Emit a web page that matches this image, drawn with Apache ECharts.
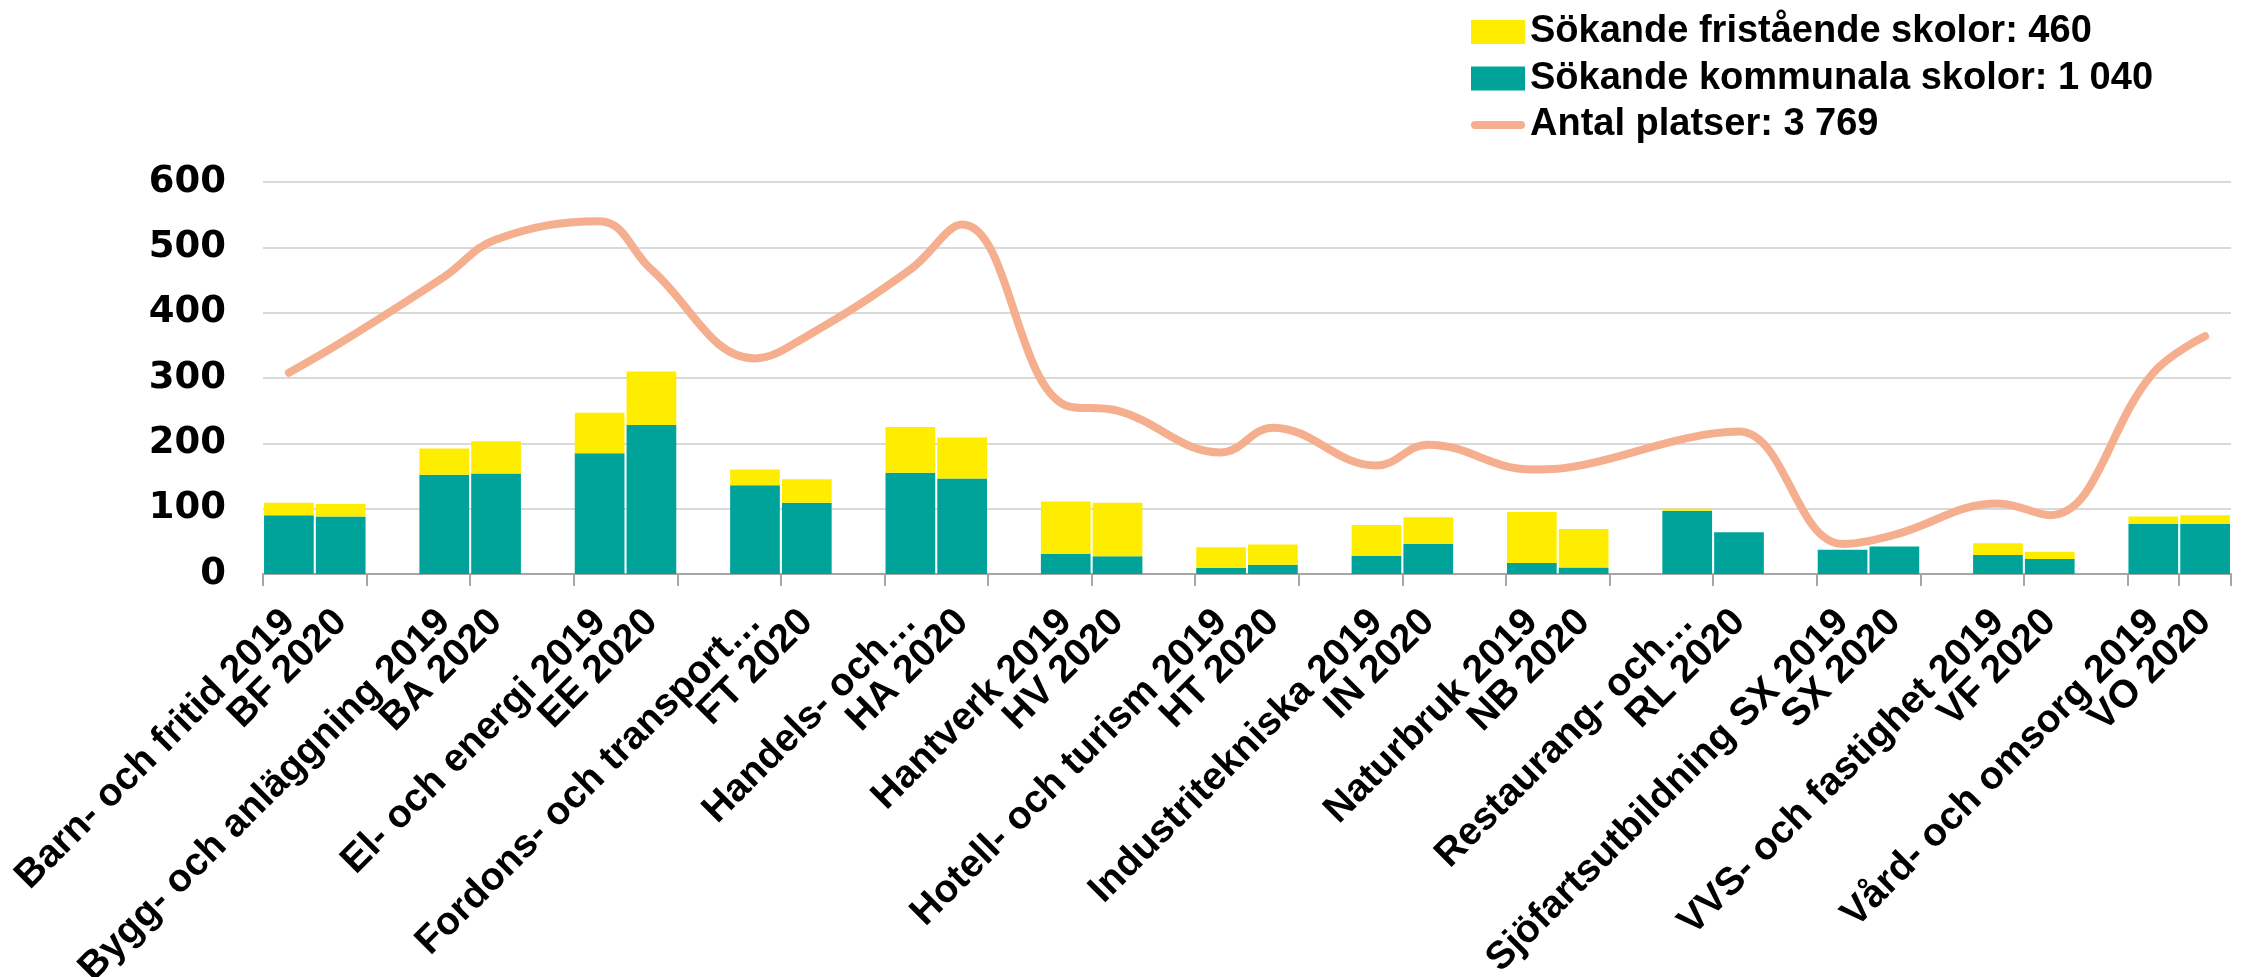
<!DOCTYPE html>
<html><head><meta charset="utf-8">
<script src="https://cdn.jsdelivr.net/npm/echarts@6/dist/echarts.min.js"></script>
<style>html,body{margin:0;padding:0;background:#fff}#c{width:2254px;height:977px}</style>
</head><body><div id="c"></div>
<script>
const categories = [
  "Barn- och fritid 2019", "BF 2020", "",
  "Bygg- och anläggning 2019", "BA 2020", "",
  "El- och energi 2019", "EE 2020", "",
  "Fordons- och transport…", "FT 2020", "",
  "Handels- och…", "HA 2020", "",
  "Hantverk 2019", "HV 2020", "",
  "Hotell- och turism 2019", "HT 2020", "",
  "Industritekniska 2019", "IN 2020", "",
  "Naturbruk 2019", "NB 2020", "",
  "Restaurang- och…", "RL 2020", "",
  "Sjöfartsutbildning SX 2019", "SX 2020", "",
  "VVS- och fastighet 2019", "VF 2020", "",
  "Vård- och omsorg 2019", "VO 2020"
];
const kommunala = [90,88,null, 152,154,null, 185,228,null, 136,109,null, 155,146,null, 31,27,null, 9,14,null, 28,46,null, 17,10,null, 97,64,null, 37,42,null, 29,23,null, 77,77];
const fristaende = [19,19,null, 40,49,null, 62,82,null, 24,36,null, 70,63,null, 80,82,null, 32,31,null, 47,41,null, 78,59,null, 3,0,null, 0,0,null, 18,11,null, 11,13];
const platser = [308,354,null, 455,512,null, 540,466,null, 330,364,null, 466,535,null, 258,250,null, 186,224,null, 166,198,null, 160,167,null, 208,218,null, 46,60,null, 108,90,null, 308,364];
const legendNames = ["Sökande fristående skolor: 460", "Sökande kommunala skolor: 1 040", "Antal platser: 3 769"];
const yMin = 0, yMax = 600, yStep = 100;

const chart = echarts.init(document.getElementById('c'), null, {renderer: 'canvas'});
chart.setOption({
  animation: false,
  backgroundColor: '#fff',
  grid: {left: 263, right: 23, top: 182, bottom: 403, containLabel: false, outerBoundsMode: 'none'},
  legend: {
    orient: 'vertical', left: 1466, top: 7,
    itemWidth: 54, itemHeight: 24, itemGap: 6.5,
    textStyle: {fontFamily: 'Liberation Sans', fontWeight: 'bold', fontSize: 38, color: '#000', lineHeight: 40},
    data: [
      {name: legendNames[0], icon: 'rect'},
      {name: legendNames[1], icon: 'rect'},
      {name: legendNames[2], icon: 'path://M4,0 L50,0 A4,4 0 0 1 50,8 L4,8 A4,4 0 0 1 4,0 Z'}
    ]
  },
  xAxis: {
    type: 'category', data: categories, boundaryGap: true,
    axisLine: {lineStyle: {color: '#A6A6A6', width: 2}},
    axisTick: {show: true, interval: 1, length: 12, lineStyle: {color: '#A6A6A6', width: 2}},
    axisLabel: {interval: 0, rotate: 45, margin: 42, fontFamily: 'Liberation Sans', fontWeight: 'bold', fontSize: 39, color: '#000'}
  },
  yAxis: {
    type: 'value', min: yMin, max: yMax, interval: yStep,
    axisLine: {show: false}, axisTick: {show: false},
    splitLine: {lineStyle: {color: '#D9D9D9', width: 2}},
    axisLabel: {margin: 37, fontFamily: 'DejaVu Sans', fontWeight: 'bold', fontSize: 37, color: '#000'}
  },
  series: [
    {name: legendNames[1], type: 'bar', stack: 's', data: kommunala, barCategoryGap: '4%', itemStyle: {color: '#00A39A'}},
    {name: legendNames[0], type: 'bar', stack: 's', data: fristaende, itemStyle: {color: '#FFED00'}},
    {name: legendNames[2], type: 'line', data: platser, smooth: 0.4, connectNulls: true, symbol: 'none', showSymbol: false,
      lineStyle: {color: '#F5AE8E', width: 8, cap: 'round', join: 'round'}, itemStyle: {color: '#F5AE8E'}, z: 5}
  ]
});
</script></body></html>
